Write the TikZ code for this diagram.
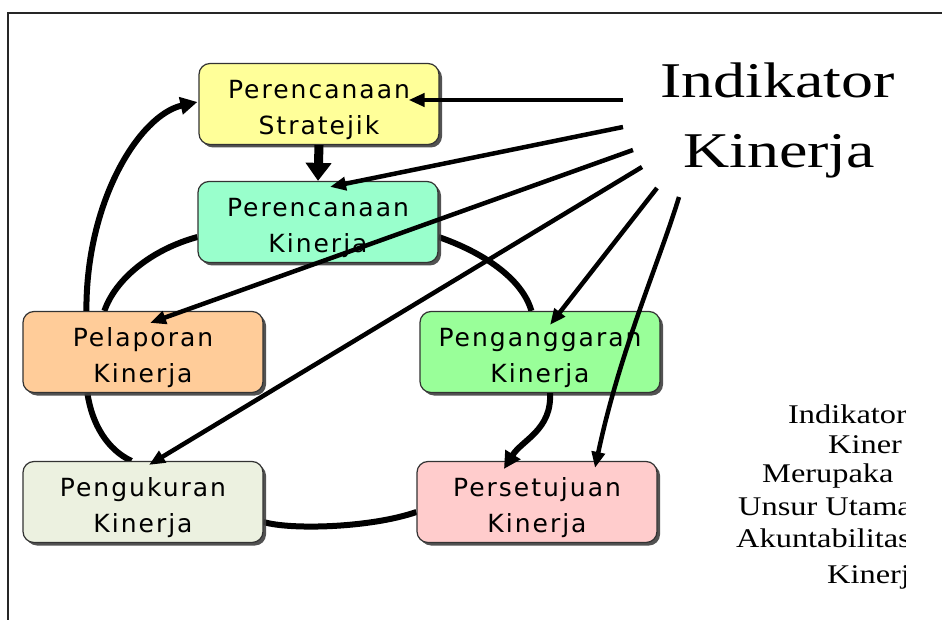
\documentclass[tikz,border=0pt]{standalone}
\usepackage{fontspec}
\setmainfont{Liberation Serif}
\newfontfamily\boxfont[LetterSpace=8]{DejaVu Sans}
\usetikzlibrary{arrows.meta,shadows,calc}
\pgfdeclarelayer{behind}
\pgfsetlayers{behind,main}
\definecolor{cYellow}{HTML}{FFFF99}
\definecolor{cAqua}{HTML}{99FFCC}
\definecolor{cOrange}{HTML}{FFCC99}
\definecolor{cGreen}{HTML}{99FF99}
\definecolor{cPink}{HTML}{FFCCCC}
\definecolor{cPale}{HTML}{ECF1E0}
% lowers the two text lines inside a stage box
\newcommand\boxstrut{\rule{0pt}{31pt}}
\begin{document}
\begin{tikzpicture}[x=1pt,y=-1pt,
  stage/.style={draw=black!80, line width=1.2pt, rounded corners=11pt,
    minimum width=240pt, minimum height=81pt, align=center, inner sep=0pt,
    font=\boxfont\fontsize{25}{36}\selectfont,
    drop shadow={shadow xshift=3pt,shadow yshift=-3pt,fill=black!75,opacity=0.9}},
  ray/.style={line width=4.5pt, -{Triangle[length=16pt,width=13pt]}},
  cycle/.style={line width=6pt},
  cyclearrow/.style={line width=6pt, -{Triangle[length=17pt,width=17pt]}},
  bigtitle/.style={anchor=base west, inner sep=0pt, font=\fontsize{50}{50}\selectfont},
  sidetext/.style={anchor=base west, inner sep=0pt, font=\fontsize{27}{27}\selectfont}]

% canvas and frame
\useasboundingbox (0,0) rectangle (942,620);
\draw[line width=1.3pt, black!85] (942,13) -- (8,13) -- (8,620);

% stage boxes
\path
  node[stage, fill=cYellow] (ps) at (319,104) {\boxstrut Perencanaan\\Stratejik}
  node[stage, fill=cAqua]   (pk) at (318,222) {\boxstrut Perencanaan\\Kinerja}
  node[stage, fill=cOrange] (pl) at (143,352) {\boxstrut Pelaporan\\Kinerja}
  node[stage, fill=cPale]   (pu) at (143,502) {\boxstrut Pengukuran\\Kinerja}
  node[stage, fill=cGreen]  (pg) at (540,352) {\boxstrut Penganggaran\\Kinerja}
  node[stage, fill=cPink]   (pt) at (537,502) {\boxstrut Persetujuan\\Kinerja};

% the performance cycle, running behind the boxes
\begin{pgfonlayer}{behind}
  \fill[white] (0,0) rectangle (942,620);
  \draw[cycle] ($(pk.west)+(0,15)$) .. controls (150,250) and (115,280) .. ($(pl.north west)+(82,0)$);
  \draw[cycle] ($(pk.east)+(0,15)$) .. controls (482,252) and (522,278) .. ($(pg.north west)+(112,0)$);
  \draw[cycle] ($(pl.south west)+(65,0)$) .. controls (92,425) and (108,450) .. ($(pu.north west)+(109,0)$);
  \draw[cycle] ($(pu.east)+(0,20)$) .. controls (290,530) and (370,528) .. ($(pt.west)+(0,10)$);
\end{pgfonlayer}
\draw[cyclearrow] ($(pl.north west)+(64,0)$) .. controls (86,200) and (140,115) .. ($(ps.west)+(-1,-2)$);
\draw[cyclearrow] ($(pg.south)+(10,0)$) .. controls (552,430) and (522,440) .. ($(pt.north)+(-33,8)$);

% title
\node[bigtitle] (ik1) at (660,98) {\scalebox{1.28}[1]{Indikator}};
\node[bigtitle] (ik2) at (683,168) {\scalebox{1.28}[1]{Kinerja}};

% side note, cut off at its right edge
\begin{scope}
  \clip (0,0) rectangle (905,620);
  \node[sidetext] (n1) at (788,423) {\scalebox{1.2}[1]{Indikator}};
  \node[sidetext] (n2) at (828,453) {\scalebox{1.2}[1]{Kiner}};
  \node[sidetext] (n3) at (762,482) {\scalebox{1.2}[1]{Merupaka}};
  \node[sidetext] (n4) at (738,515) {\scalebox{1.2}[1]{Unsur Utama}};
  \node[sidetext] (n5) at (736,547) {\scalebox{1.2}[1]{Akuntabilitas}};
  \node[sidetext] (n6) at (827,583) {\scalebox{1.2}[1]{Kinerja}};
\end{scope}

% ray origins next to the title
\coordinate (i1) at (623,100);
\coordinate (i2) at (623,127);
\coordinate (i3) at (633,150);
\coordinate (i4) at (642,167);
\coordinate (i5) at (657,188);
\coordinate (i6) at (679,197);

% rays from the indicator to every stage
\draw[ray] (i1) -- ($(ps.east)+(-31,-4)$);
\draw[ray] (i2) -- ($(pk.north)+(12,6)$);
\draw[ray] (i3) -- ($(pl.north)+(7,12)$);
\draw[ray] (i4) -- ($(pu.north)+(6,4)$);
\draw[ray] (i5) -- ($(pg.north)+(10,14)$);
\draw[ray] (i6) .. controls (660,260) and (620,350) .. ($(pt.north)+(58,7)$);

% strategic plan feeds the performance plan
\draw[line width=9pt, -{Triangle[length=18pt,width=25pt]}] (ps.south) -- (pk.north);
\end{tikzpicture}
\end{document}
